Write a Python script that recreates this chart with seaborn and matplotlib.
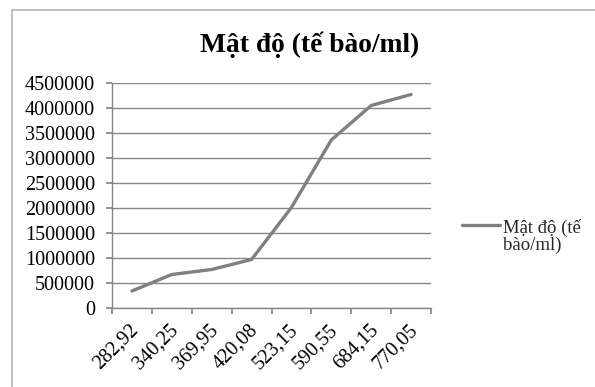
import matplotlib
matplotlib.use("Agg")
import numpy as np
import matplotlib.pyplot as plt
import matplotlib.transforms as mtransforms
import seaborn as sns
import pandas as pd
from matplotlib.patches import Rectangle
from matplotlib.lines import Line2D
from matplotlib.legend_handler import HandlerLine2D

categories = ["282,92", "340,25", "369,95", "420,08", "523,15", "590,55", "684,15", "770,05"]
values = [340000, 670000, 770000, 970000, 2010000, 3360000, 4050000, 4270000]
series_name = "Mật độ (tế bào/ml)"
title = "Mật độ (tế bào/ml)"
yticks = [0, 500000, 1000000, 1500000, 2000000, 2500000, 3000000, 3500000, 4000000, 4500000]

sns.set_theme(style="white")
plt.rcParams['font.family'] = ['Liberation Serif', 'DejaVu Serif']

W, H = 595, 387
fig = plt.figure(figsize=(W/100, H/100), dpi=100)
ax = fig.add_axes([112/W, 1-308/H, (431-112)/W, (308-83)/H])

df = pd.DataFrame({"x": list(range(len(categories))), "y": values, "s": series_name})
sns.lineplot(data=df, x="x", y="y", ax=ax, color="#808080", linewidth=2.4, legend=False)

ax.set_xlim(-0.5, len(categories) - 0.5)
ax.set_ylim(0, 4500000)
ax.set_yticks(yticks)
ax.set_yticklabels([str(v) for v in yticks], fontsize=14.5)
ax.set_xticks([i - 0.5 for i in range(len(categories) + 1)], minor=False)
ax.set_xticklabels([])
ax.set_xticks(list(range(len(categories))), minor=True)
ax.set_xticklabels(categories, minor=True, rotation=45, ha="right", va="center",
                   rotation_mode="anchor", fontsize=14.5)
ax.tick_params(axis="x", which="minor", length=0, pad=14)
ax.tick_params(axis="x", which="major", length=4.3, color="#868686", direction="out", bottom=True)
ax.tick_params(axis="y", length=4.3, color="#868686", direction="out", left=True, pad=8)
offset = mtransforms.ScaledTranslation(4/100, 0, fig.dpi_scale_trans)
for lbl in ax.get_xticklabels(minor=True):
    lbl.set_transform(lbl.get_transform() + offset)
    lbl.set_color("black")
ax.set_xlabel("")
ax.set_ylabel("")
ax.yaxis.grid(True, color="#868686", linewidth=1)
ax.xaxis.grid(False)
for s in ["top", "right"]:
    ax.spines[s].set_visible(False)
for s in ["left", "bottom"]:
    ax.spines[s].set_color("#868686")
    ax.spines[s].set_linewidth(1)
for lbl in ax.get_yticklabels():
    lbl.set_color("black")

fig.text(310/W, 1-45/H, title, ha="center", va="center", fontsize=19.8,
         fontweight="bold", color="black")


class FirstLineHandler(HandlerLine2D):
    def __init__(self, shift, **kw):
        super().__init__(**kw)
        self.shift = shift

    def create_artists(self, legend, orig_handle, xdescent, ydescent, width, height, fontsize, trans):
        arts = super().create_artists(legend, orig_handle, xdescent, ydescent, width, height, fontsize, trans)
        for a in arts:
            a.set_ydata(np.asarray(a.get_ydata(), dtype=float) + self.shift)
        return arts


LEG_FS = 13.5
handle = Line2D([0], [0], color="#808080", linewidth=2.4)
leg = fig.legend([handle], ["Mật độ (tế\nbào/ml)"], loc="upper left",
                 bbox_to_anchor=(462/W, 1-219/H), frameon=False, fontsize=LEG_FS,
                 handlelength=2.05, handletextpad=0.12, borderpad=0, borderaxespad=0,
                 handler_map={Line2D: FirstLineHandler(shift=8.2)})
for t in leg.get_texts():
    t.set_linespacing(1.0)

# outer chart border
fig.patches.append(Rectangle((12/W, -0.1), 1.2, 1-10/H+0.1, transform=fig.transFigure,
                             fill=False, edgecolor="#b3b3b3", linewidth=1.2))

fig.savefig("out.png", dpi=100)
